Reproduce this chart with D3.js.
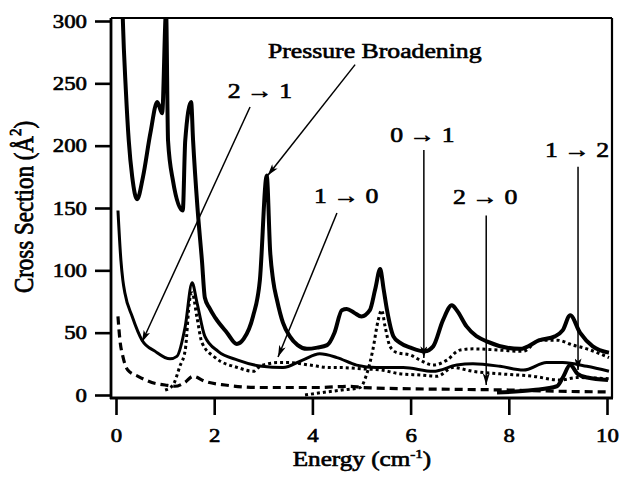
<!DOCTYPE html>
<html>
<head>
<meta charset="utf-8">
<script src="https://cdn.jsdelivr.net/npm/d3@7"></script>
<style>
  body { margin: 0; background: #fff; }
</style>
</head>
<body>
<svg id="chart" width="621" height="480"></svg>
<script>
// Values: energy (cm^-1) and cross section (Å^2)
const broadE = [0.12, 0.14, 0.2, 0.26, 0.33, 0.43, 0.55, 0.7, 0.84, 0.94, 1.02, 1.06, 1.16, 1.36, 1.41, 1.53, 1.57, 1.66, 1.75, 1.81, 1.9, 2.02, 2.26, 2.46, 2.6, 2.79, 2.93, 3.07, 3.14, 3.2, 3.28, 3.4, 3.54, 3.7, 3.89, 4.1, 4.3, 4.45, 4.6, 4.7, 4.85, 5.0, 5.17, 5.28, 5.38, 5.45, 5.52, 5.65, 5.78, 6.0, 6.29, 6.46, 6.66, 6.84, 6.94, 7.14, 7.55, 8.23, 8.63, 8.94, 9.1, 9.25, 9.45, 9.71, 10.04]
const broadV = [330, 300, 245, 204, 175, 157, 175, 210, 235, 226, 308, 204, 172, 148, 204, 235, 204, 150, 108, 78, 70, 62, 50, 41, 45, 63, 92, 176, 115, 92, 76, 58, 47, 40, 37, 38, 40, 50, 68, 69, 66, 63, 68, 85, 101, 85, 68, 47, 42, 38, 35, 39, 60, 72, 68, 55, 43, 37, 44, 47, 52, 64, 50, 39, 34]

const s21E = [0.04, 0.1, 0.14, 0.18, 0.33, 0.53, 0.8, 1.1, 1.24, 1.41, 1.55, 1.65, 1.81, 2.08, 2.48, 2.97, 3.4, 3.8, 4.15, 4.5, 4.9, 5.3, 5.85, 6.46, 6.94, 7.27, 7.82, 8.3, 8.77, 9.1, 9.59, 10.04]
const s21V = [148, 108, 92, 82, 63, 44, 35, 29, 31, 55, 90, 74, 47, 35, 28, 23, 22, 28, 33, 30, 24, 22, 22, 19, 24, 25, 23, 20, 26, 26, 23, 19]

const s10E = [1.0, 1.16, 1.3, 1.41, 1.5, 1.55, 1.65, 1.75, 2.02, 2.48, 2.8, 2.93, 3.1, 3.28, 3.54, 3.95, 4.36, 4.56, 5.0, 5.4, 5.78, 6.2, 6.54, 6.86, 7.27, 7.82, 8.5, 9.04, 9.4, 10.04]
const s10V = [4, 8, 23, 36, 76, 82, 62, 42, 30, 22, 19, 23, 25, 26, 26, 24, 22, 22, 21, 20, 17, 16, 15, 22, 19, 17, 15, 12, 14, 13]

const s01E = [3.85, 4.2, 4.6, 4.97, 5.1, 5.23, 5.34, 5.41, 5.48, 5.58, 5.72, 6.0, 6.19, 6.46, 6.74, 7.0, 7.27, 7.82, 8.29, 8.63, 8.98, 9.31, 9.59, 10.04]
const s01V = [0, 2, 4, 6, 16, 36, 60, 68, 55, 39, 34, 32, 28, 24, 28, 36, 37, 36, 35, 44, 44, 40, 37, 30]

const s20E = [0.04, 0.08, 0.14, 0.24, 0.45, 0.73, 1.0, 1.2, 1.4, 1.57, 1.81, 2.22, 2.97, 4.09, 4.77, 5.03, 6.0, 7.0, 8.0, 9.0, 10.04]
const s20V = [63, 44, 31, 20, 15, 10, 8, 7, 10, 15, 11, 8, 6, 6, 7, 6, 5, 4.5, 4, 3, 2.5]

const s12E = [7.76, 8.5, 8.98, 9.1, 9.25, 9.4, 9.6, 10.02]
const s12V = [2, 4, 7, 14, 24, 17, 14, 12]

const xTicks = [0, 2, 4, 6, 8, 10]
const yTicks = [0, 50, 100, 150, 200, 250, 300]

const frame = {left: 111, right: 612, top: 18, bottom: 398}
const stretch = 1.17   // glyphs in the figure are wider than Times
const font = '"Liberation Serif", "Times New Roman", serif'
const ink = 0.65       // extra stroke to match the heavy printed text

const x = d3.scaleLinear().domain([0, 10]).range([116, 607])
const y = d3.scaleLinear().domain([0, 300]).range([395, 21])

const svg = d3.select("#chart")
  .style("font-family", font)

svg.append("defs").append("clipPath")
    .attr("id", "plotClip")
  .append("rect")
    .attr("x", frame.left)
    .attr("y", frame.top)
    .attr("width", frame.right - frame.left)
    .attr("height", frame.bottom - frame.top)

svg.select("defs").append("marker")
    .attr("id", "head")
    .attr("viewBox", "0 0 10 6")
    .attr("refX", 10)
    .attr("refY", 3)
    .attr("markerUnits", "userSpaceOnUse")
    .attr("markerWidth", 12)
    .attr("markerHeight", 7)
    .attr("orient", "auto")
  .append("path")
    .attr("d", "M0,0 L10,3 L0,6 L2.5,3 Z")
    .attr("fill", "#000")

// Series
const series = [
  {E: s20E, V: s20V, width: 3.2, dash: "8,5"},
  {E: s01E, V: s01V, width: 3, dash: "3,3"},
  {E: s10E, V: s10V, width: 3, dash: "3,3"},
  {E: s21E, V: s21V, width: 3, dash: null},
  {E: broadE, V: broadV, width: 4, dash: null},
  {E: s12E, V: s12V, width: 4, dash: null}
]

const line = d3.line()
  .x(d => x(d[0]))
  .y(d => y(d[1]))
  .curve(d3.curveMonotoneX)

svg.append("g")
    .attr("clip-path", "url(#plotClip)")
  .selectAll("path")
  .data(series)
  .join("path")
    .attr("d", s => line(s.E.map((e, i) => [e, s.V[i]])))
    .attr("fill", "none")
    .attr("stroke", "#000")
    .attr("stroke-width", s => s.width)
    .attr("stroke-dasharray", s => s.dash)
    .attr("stroke-linejoin", "round")

// Axes
const xAxis = svg.append("g")
  .attr("transform", `translate(0,${frame.bottom})`)
  .call(d3.axisBottom(x).tickValues(xTicks).tickSize(17).tickPadding(13).tickSizeOuter(0))
xAxis.select(".domain").remove()

const yAxis = svg.append("g")
  .attr("transform", `translate(${frame.left},0)`)
  .call(d3.axisLeft(y).tickValues(yTicks).tickSize(16).tickPadding(8).tickSizeOuter(0))
yAxis.select(".domain").remove()

svg.selectAll(".tick line")
  .attr("stroke", "#000")
  .attr("stroke-width", 2.6)

svg.selectAll(".tick text")
  .attr("font-family", font)
  .attr("font-size", 19.5)
  .attr("fill", "#000")
  .attr("stroke", "#000")
  .attr("stroke-width", ink)
  .attr("x", function() { return +d3.select(this).attr("x") / stretch })
  .attr("transform", `scale(${stretch},1)`)

// Frame
const frameLines = [
  [frame.left, frame.top, frame.right, frame.top, 2.2],
  [frame.right, frame.top, frame.right, frame.bottom, 2.2],
  [frame.left, frame.top, frame.left, frame.bottom + 1, 2.8],
  [frame.left - 1, frame.bottom, frame.right + 1, frame.bottom, 2.8]
]
svg.append("g")
  .selectAll("line")
  .data(frameLines)
  .join("line")
    .attr("x1", d => d[0]).attr("y1", d => d[1])
    .attr("x2", d => d[2]).attr("y2", d => d[3])
    .attr("stroke", "#000")
    .attr("stroke-width", d => d[4])

// Axis titles
const xTitle = svg.append("text")
  .attr("transform", `translate(362,466) scale(${stretch},1)`)
  .attr("text-anchor", "middle")
  .attr("font-size", 21.5)
  .attr("stroke", "#000").attr("stroke-width", ink)
xTitle.append("tspan").text("Energy (cm")
xTitle.append("tspan").attr("dy", -8).attr("font-size", 13).text("-1")
xTitle.append("tspan").attr("dy", 8).text(")")

const yTitle = svg.append("text")
  .attr("transform", `translate(33,207) rotate(-90) scale(1,${stretch})`)
  .attr("text-anchor", "middle")
  .attr("font-size", 23)
  .attr("stroke", "#000").attr("stroke-width", ink)
yTitle.append("tspan").text("Cross Section (Å")
yTitle.append("tspan").attr("dy", -10).attr("font-size", 15).text("2")
yTitle.append("tspan").attr("dy", 10).text(")")

// Annotations: label anchor and arrow (tail -> tip) in data units
const notes = [
  {label: "Pressure Broadening", at: [5.27, 270], from: [4.87, 265], to: [3.09, 176]},
  {label: "2 → 1", at: [2.93, 238], from: [2.73, 231], to: [0.53, 42.5]},
  {label: "1 → 0", at: [4.69, 154], from: [4.5, 146], to: [3.3, 30.5]},
  {label: "0 → 1", at: [6.24, 203], from: [6.27, 196.5], to: [6.27, 29.7]},
  {label: "2 → 0", at: [7.52, 153], from: [7.54, 144], to: [7.54, 8]},
  {label: "1 → 2", at: [9.39, 191], from: [9.41, 183], to: [9.41, 20]}
]

const ann = svg.append("g")

ann.selectAll("line")
  .data(notes)
  .join("line")
    .attr("x1", d => x(d.from[0])).attr("y1", d => y(d.from[1]))
    .attr("x2", d => x(d.to[0])).attr("y2", d => y(d.to[1]))
    .attr("stroke", "#000")
    .attr("stroke-width", 1.5)
    .attr("marker-end", "url(#head)")

ann.selectAll("text")
  .data(notes)
  .join("text")
    .attr("transform", d => `translate(${x(d.at[0])},${y(d.at[1])}) scale(${stretch},1)`)
    .attr("text-anchor", "middle")
    .attr("font-size", 22)
    .attr("stroke", "#000").attr("stroke-width", ink)
    .text(d => d.label)
</script>
</body>
</html>
